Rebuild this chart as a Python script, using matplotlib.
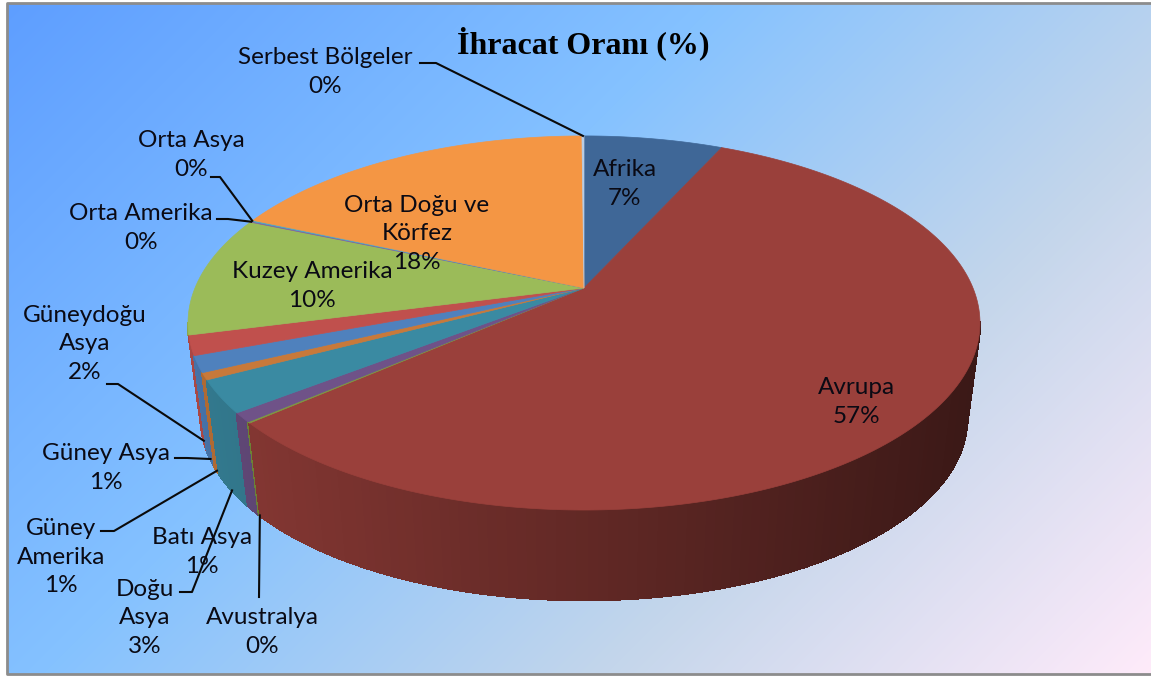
import numpy as np
import matplotlib.pyplot as plt
from matplotlib.colors import to_rgb

# --- data (share of the pie, clockwise from 12 o'clock) ---
regions = ['Afrika', 'Avrupa', 'Avustralya', 'Batı Asya', 'Doğu Asya', 'Güney Amerika', 'Güney Asya',
           'Güneydoğu Asya', 'Kuzey Amerika', 'Orta Amerika', 'Orta Asya', 'Orta Doğu ve Körfez', 'Serbest Bölgeler']
shares = [6.8, 56.8, 0.1, 0.8, 2.8, 0.6, 1.4, 1.7, 10.4, 0.1, 0.1, 18.3, 0.1]
labels = ['Afrika\n7%', 'Avrupa\n57%', 'Avustralya\n0%', 'Batı Asya\n1%', 'Doğu\nAsya\n3%', 'Güney\nAmerika\n1%',
          'Güney Asya\n1%', 'Güneydoğu\nAsya\n2%', 'Kuzey Amerika\n10%', 'Orta Amerika\n0%', 'Orta Asya\n0%',
          'Orta Doğu ve\nKörfez\n18%', 'Serbest Bölgeler\n0%']
colors = ['#3f6797', '#9a403b', '#7e9a3f', '#6f5288', '#3a8aa2', '#c8793a', '#4f81bd',
          '#c0504d', '#9bbb59', '#8064a2', '#4bacc6', '#f49644', '#b9cde5']
label_x = [625, 856, 262, 202, 145, 61, 106, 85, 312, 141, 191, 417, 325]
label_y = [184, 402, 632, 552, 618, 557, 468, 344, 286, 228, 155, 234, 72]
# elbow of the leader line (text end, bend), None when the label has no leader
leader_from = [None, None, None, None, (180, 592), (101, 531), (175, 458), (107, 384),
               None, (217, 219), (211, 177), None, (420, 63)]
leader_bend = [None, None, (259, 597), None, (192, 592), (114, 531), (187, 458), (118, 384),
               None, (228, 219), (220, 177), None, (436, 63)]
title = 'İhracat Oranı (%)'

W, H = 1151, 677
# pie geometry in pixels, perspective disc
hub_x, hub_y = 584, 288
A, B, k = 389, 180.5, 0.187
floor_scale, floor_y = 0.967, 385.3


def rim(pct):
    t = np.asarray(pct) / 100 * 2 * np.pi
    X, Y = np.sin(t), -np.cos(t)
    w = 1 - k * Y
    return hub_x + A * X / w, hub_y + B * Y / w, Y


def floor(px, py):
    return hub_x + floor_scale * (px - hub_x), floor_y + floor_scale * (py - hub_y)


plt.rcParams['font.family'] = ['Lato', 'DejaVu Sans']
fig = plt.figure(figsize=(W / 100, H / 100), dpi=100)
ax = fig.add_axes([0, 0, 1, 1])
ax.set_xlim(0, W)
ax.set_ylim(H, 0)
ax.axis('off')

# background gradient
yy, xx = np.mgrid[0:H, 0:W]
u = (xx + yy) / (W + H)
stops = [0, 0.39, 0.7, 1]
stop_cols = np.array([to_rgb(c) for c in ['#5e9eff', '#85c2ff', '#c4d6eb', '#ffebfa']])
bg = np.dstack([np.interp(u, stops, stop_cols[:, i]) for i in range(3)])
ax.imshow(bg, extent=(7, W, 674, 3), aspect='auto', zorder=0)
ax.set_xlim(0, W)
ax.set_ylim(H, 0)
ax.plot([W, 7, 7, W], [3, 3, 674, 674], color='#8c8c8c', lw=2, zorder=1)

edges = np.cumsum([0] + shares)
edges = edges / edges[-1] * 100

# side wall, thin quads painted back to front
quads = []
for i in range(len(shares)):
    n = max(2, int(shares[i] * 3))
    p = np.linspace(edges[i], edges[i + 1], n + 1)
    for a, b in zip(p[:-1], p[1:]):
        x0, y0, Y0 = rim(a)
        x1, y1, Y1 = rim(b)
        if min(Y0, Y1) < k - 0.02:
            continue
        fx0, fy0 = floor(x0, y0)
        fx1, fy1 = floor(x1, y1)
        shade = np.clip(0.84 - ((x0 + x1) / 2 - 260) / 720 * 0.46, 0.36, 0.9)
        col = np.array(to_rgb(colors[i])) * shade
        quads.append((min(Y0, Y1), [x0, x1, fx1, fx0], [y0, y1, fy1, fy0], col))
quads.sort(key=lambda q: q[0])
for _, qx, qy, col in quads:
    ax.fill(qx, qy, facecolor=col, edgecolor=col, lw=1.2, antialiased=False, zorder=2)

# top face
for i in range(len(shares)):
    p = np.linspace(edges[i], edges[i + 1], max(3, int(shares[i] * 6)))
    x, y, _ = rim(p)
    ax.fill(np.r_[hub_x, x], np.r_[hub_y, y], color=colors[i], lw=0.5, zorder=3)

# leader lines end on the slice they belong to
for i in range(len(shares)):
    if leader_bend[i] is None:
        continue
    x, y, Y = rim((edges[i] + edges[i + 1]) / 2)
    if Y > k:
        x, y = floor(x, y)
    pts = [leader_from[i], leader_bend[i], (x, y)] if leader_from[i] else [leader_bend[i], (x, y)]
    ax.plot([q[0] for q in pts], [q[1] for q in pts], color='#0a0a0a', lw=1.5, zorder=4)

for i in range(len(labels)):
    ax.text(label_x[i], label_y[i], labels[i], ha='center', va='center', fontsize=17.5,
            linespacing=1.46, color='#0a0a14', zorder=5)

ax.text(583, 43, title, ha='center', va='center', fontsize=23, fontweight='bold',
        family='Liberation Serif', color='black', zorder=5)

fig.savefig('out.png', dpi=100)
